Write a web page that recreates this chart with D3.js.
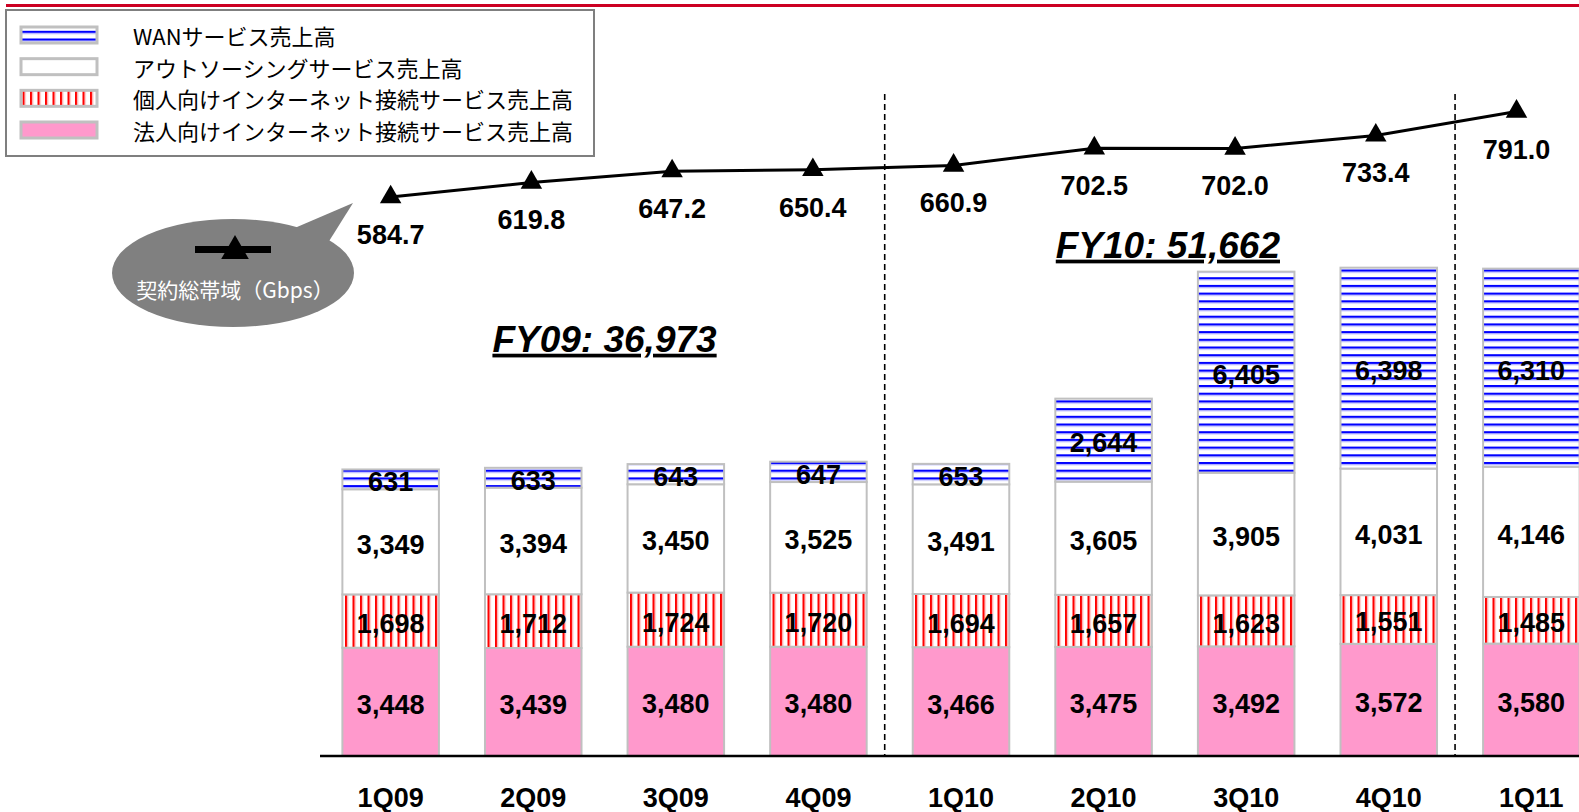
<!DOCTYPE html>
<html>
<head>
<meta charset="utf-8">
<script src="https://cdn.jsdelivr.net/npm/d3@7"></script>
<style>
body { margin: 0; background: #fff; overflow: hidden; }
svg { display: block; }
</style>
</head>
<body>
<div id="chart"></div>
<script>
// quarterly revenue (stacked bars) and contracted bandwidth (line)
const quarters = ["1Q09","2Q09","3Q09","4Q09","1Q10","2Q10","3Q10","4Q10","1Q11"];
const corporate = [3448,3439,3480,3480,3466,3475,3492,3572,3580];
const personal = [1698,1712,1724,1720,1694,1657,1623,1551,1485];
const outsourcing = [3349,3394,3450,3525,3491,3605,3905,4031,4146];
const wan = [631,633,643,647,653,2644,6405,6398,6310];
const bandwidth = [584.7,619.8,647.2,650.4,660.9,702.5,702.0,733.4,791.0];

const legendNames = ["WANサービス売上高","アウトソーシングサービス売上高","個人向けインターネット接続サービス売上高","法人向けインターネット接続サービス売上高"];
const fyLabels = ["FY09","FY10"];
const fyQuarters = [["1Q09","2Q09","3Q09","4Q09"],["1Q10","2Q10","3Q10","4Q10"]];
const bubbleLabel = "契約総帯域（Gbps）";

const W = 1579, H = 812;
const numFont = "'Liberation Sans', Arial, sans-serif";
const jpFont = "'Noto Sans CJK JP', sans-serif";

let svg = d3.select("#chart").append("svg")
  .attr("width", W).attr("height", H);

let defs = svg.append("defs");
// blue horizontal lines
let pw = defs.append("pattern").attr("id","pWan")
  .attr("patternUnits","userSpaceOnUse").attr("width",10).attr("height",7.7);
pw.append("rect").attr("width",10).attr("height",7.7).attr("fill","#fff");
pw.append("rect").attr("y",0).attr("width",10).attr("height",2.2).attr("fill","#0000ff");
pw.append("rect").attr("y",2.2).attr("width",10).attr("height",1).attr("fill","#a8a8ff");
// red vertical stripes
let pp = defs.append("pattern").attr("id","pPers")
  .attr("patternUnits","userSpaceOnUse").attr("width",7.5).attr("height",10);
pp.append("rect").attr("width",7.5).attr("height",10).attr("fill","#fff");
pp.append("rect").attr("x",0).attr("width",2.2).attr("height",10).attr("fill","#ff0000");
pp.append("rect").attr("x",2.2).attr("width",1).attr("height",10).attr("fill","#ffaaaa");

const keys = ["corporate","personal","outsourcing","wan"];
const fills = {wan:"url(#pWan)", outsourcing:"#ffffff", personal:"url(#pPers)", corporate:"#ff99cc"};

let table = quarters.map((q,i) => ({q:q, corporate:corporate[i], personal:personal[i], outsourcing:outsourcing[i], wan:wan[i]}));
let stacked = d3.stack().keys(keys)(table);

let x = d3.scaleBand().domain(quarters).range([320, 1602]).paddingInner(0.323).paddingOuter(0.157);
let y = d3.scaleLinear().domain([0, 16000]).range([756, 253.6]);

let lineStart = x(quarters[0]) + x.bandwidth()/2;
let xl = d3.scalePoint().domain(quarters)
  .range([lineStart, lineStart + (quarters.length-1)*x.step()*0.987]);
let yl = d3.scaleLinear().domain([400, 800]).range([273.6, 107.8]);

// top red rule
svg.append("line").attr("x1",6).attr("x2",W).attr("y1",5.5).attr("y2",5.5)
  .attr("stroke","#cc0022").attr("stroke-width",3);

// dashed separators between fiscal years
[3,7].forEach(i => {
  let xd = (x(quarters[i]) + x.bandwidth() + x(quarters[i+1]))/2 - 5;
  svg.append("line").attr("x1",xd).attr("x2",xd).attr("y1",94).attr("y2",756)
    .attr("stroke","#000").attr("stroke-width",1.6).attr("stroke-dasharray","6,4");
});

// bars
let layers = svg.selectAll("g.layer").data(stacked).enter().append("g").attr("class","layer");
layers.selectAll("rect").data(d => d.map(v => ({key:d.key, v:v}))).enter().append("rect")
  .attr("x", d => x(d.v.data.q))
  .attr("y", d => y(d.v[1]))
  .attr("width", x.bandwidth())
  .attr("height", d => y(d.v[0]) - y(d.v[1]))
  .attr("fill", d => fills[d.key])
  .attr("stroke","#c0c0c0").attr("stroke-width",2);

layers.selectAll("text").data(d => d.map(v => ({key:d.key, v:v}))).enter().append("text")
  .attr("x", d => x(d.v.data.q) + x.bandwidth()/2)
  .attr("y", d => (y(d.v[0]) + y(d.v[1]))/2 + 3)
  .attr("text-anchor","middle").attr("dominant-baseline","central")
  .style("font-family", numFont).style("font-weight","bold").style("font-size","27px")
  .text(d => d3.format(",")(d.v.data[d.key]));

// baseline
svg.append("line").attr("x1",320).attr("x2",W).attr("y1",756).attr("y2",756)
  .attr("stroke","#000").attr("stroke-width",2.5);

// x labels
svg.selectAll("text.xl").data(quarters).enter().append("text").attr("class","xl")
  .attr("x", d => x(d) + x.bandwidth()/2).attr("y", 807)
  .attr("text-anchor","middle")
  .style("font-family", numFont).style("font-weight","bold").style("font-size","27px")
  .text(d => d);

// fiscal year totals
fyLabels.forEach((fy,k) => {
  let qs = fyQuarters[k];
  let totals = qs.map(q => { let i = quarters.indexOf(q); return corporate[i]+personal[i]+outsourcing[i]+wan[i]; });
  let cx = (x(qs[0]) + x(qs[qs.length-1]) + x.bandwidth())/2;
  svg.append("text")
    .attr("x", cx - (k ? 7 : 0)).attr("y", y(d3.max(totals)) - (k ? 10 : 110))
    .attr("text-anchor","middle")
    .style("font-family", numFont).style("font-weight","bold").style("font-style","italic")
    .style("font-size","37px").style("text-decoration","underline")
    .text(fy + ": " + d3.format(",")(d3.sum(totals)));
});

// bandwidth line
svg.append("path").datum(bandwidth)
  .attr("d", d3.line().x((d,i) => xl(quarters[i])).y(d => yl(d)))
  .attr("fill","none").attr("stroke","#000").attr("stroke-width",3);

svg.selectAll("path.mk").data(bandwidth).enter().append("path").attr("class","mk")
  .attr("d", d3.symbol(d3.symbolTriangle, 200))
  .attr("transform", (d,i) => "translate(" + xl(quarters[i]) + "," + yl(d) + ")")
  .attr("fill","#000");

svg.selectAll("text.bw").data(bandwidth).enter().append("text").attr("class","bw")
  .attr("x", (d,i) => xl(quarters[i])).attr("y", d => yl(d) + 47)
  .attr("text-anchor","middle")
  .style("font-family", numFont).style("font-weight","bold").style("font-size","27px")
  .text(d => d3.format(".1f")(d));

// callout bubble
let bub = svg.append("g");
bub.append("ellipse").attr("cx",233).attr("cy",273).attr("rx",121).attr("ry",54).attr("fill","#808080");
bub.append("path").attr("d","M290,230 L353,203 L326,246 Z").attr("fill","#808080");
bub.append("rect").attr("x",195).attr("y",246).attr("width",76).attr("height",7).attr("fill","#000");
bub.append("path").attr("d", d3.symbol(d3.symbolTriangle, 330))
  .attr("transform","translate(235,251)").attr("fill","#000");
bub.append("text").attr("x",235).attr("y",298).attr("text-anchor","middle")
  .style("font-family", jpFont).style("font-size","21px").attr("fill","#fff")
  .text(bubbleLabel);

// legend
let lg = svg.append("g");
lg.append("rect").attr("x",6).attr("y",10).attr("width",588).attr("height",146)
  .attr("fill","#fff").attr("stroke","#7f7f7f").attr("stroke-width",2);
let legendFills = [fills.wan, fills.outsourcing, fills.personal, fills.corporate];
let legendY = d3.scalePoint().domain(legendNames).range([35, 130]);
legendNames.forEach((n,i) => {
  let cy = legendY(n);
  lg.append("rect").attr("x",21).attr("y",cy-8).attr("width",76).attr("height",16)
    .attr("fill", legendFills[i]).attr("stroke","#c0c0c0").attr("stroke-width",3);
  lg.append("text").attr("x",133).attr("y",cy).attr("dominant-baseline","central")
    .style("font-family", jpFont).style("font-size","22px").attr("fill","#000")
    .text(n);
});
</script>
</body>
</html>
